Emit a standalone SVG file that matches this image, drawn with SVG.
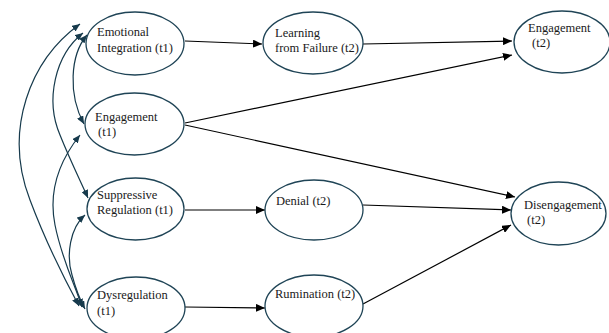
<svg xmlns="http://www.w3.org/2000/svg" width="609" height="333" viewBox="0 0 609 333">
<style>
.node ellipse{fill:#ffffff;stroke:#1f4456;stroke-width:1.3}
.node text{font-family:'Liberation Serif','Times New Roman',serif;font-size:12.5px;fill:#1a1a1a}
.path{fill:none;stroke:#000000;stroke-width:1.2}
.cor{fill:none;stroke:#163a4c;stroke-width:1.2}
</style>
<defs>
<marker id="ah" markerUnits="userSpaceOnUse" markerWidth="10" markerHeight="8" refX="9" refY="4" orient="auto">
<path d="M0,0 L9,4 L0,8 z" fill="#000000"/>
</marker>
<marker id="ch" markerUnits="userSpaceOnUse" markerWidth="9" markerHeight="7" refX="8" refY="3.5" orient="auto-start-reverse">
<path d="M0,0 L8,3.5 L0,7 z" fill="#163a4c"/>
</marker>
</defs>
<rect width="609" height="333" fill="#ffffff"/>
<g id="connectors">
<line class="path" x1="185" y1="41" x2="262" y2="44" marker-end="url(#ah)"/>
<line class="path" x1="363" y1="44" x2="512" y2="41" marker-end="url(#ah)"/>
<line class="path" x1="185" y1="123" x2="512" y2="55" marker-end="url(#ah)"/>
<line class="path" x1="185" y1="125" x2="515" y2="197" marker-end="url(#ah)"/>
<line class="path" x1="363" y1="205" x2="511" y2="210" marker-end="url(#ah)"/>
<line class="path" x1="363" y1="304" x2="511" y2="225" marker-end="url(#ah)"/>
<line class="path" x1="185" y1="210" x2="265" y2="210" marker-end="url(#ah)"/>
<line class="path" x1="185" y1="307" x2="265" y2="308" marker-end="url(#ah)"/>
<path class="cor" d="M80,24 C30,60 3,130 30,200 C45,240 65,280 79,306" marker-start="url(#ch)" marker-end="url(#ch)"/>
<path class="cor" d="M83,33 C55,55 45,100 60,135 C70,160 80,180 88,198" marker-start="url(#ch)" marker-end="url(#ch)"/>
<path class="cor" d="M87,35 C70,55 68,95 84,124" marker-start="url(#ch)" marker-end="url(#ch)"/>
<path class="cor" d="M80,135 C60,160 48,190 55,225 C62,260 75,285 82,307" marker-start="url(#ch)" marker-end="url(#ch)"/>
<path class="cor" d="M85,215 C70,228 66,255 72,275 C76,290 80,300 85,309" marker-start="url(#ch)" marker-end="url(#ch)"/>
</g>
<g id="emotional-integration" class="node">
<ellipse cx="135" cy="43.5" rx="49" ry="31.5"/>
<text x="97" y="36">Emotional</text>
<text x="97" y="52">Integration (t1)</text>
</g>
<g id="engagement-t1" class="node">
<ellipse cx="134.5" cy="124" rx="49.5" ry="31"/>
<text x="95" y="121">Engagement</text>
<text x="98" y="136">(t1)</text>
</g>
<g id="suppressive-regulation" class="node">
<ellipse cx="135.5" cy="209" rx="48.5" ry="31"/>
<text x="97" y="199">Suppressive</text>
<text x="97" y="214">Regulation (t1)</text>
</g>
<g id="dysregulation" class="node">
<ellipse cx="136" cy="308" rx="49" ry="31"/>
<text x="97" y="299">Dysregulation</text>
<text x="97" y="315">(t1)</text>
</g>
<g id="learning-from-failure" class="node">
<ellipse cx="313" cy="43" rx="50" ry="31"/>
<text x="275" y="37">Learning</text>
<text x="275" y="52">from Failure (t2)</text>
</g>
<g id="denial" class="node">
<ellipse cx="314" cy="210" rx="49" ry="30"/>
<text x="276" y="205">Denial (t2)</text>
</g>
<g id="rumination" class="node">
<ellipse cx="314" cy="306" rx="49" ry="31"/>
<text x="275" y="298">Rumination (t2)</text>
</g>
<g id="engagement-t2" class="node">
<ellipse cx="562" cy="42" rx="48" ry="31"/>
<text x="528" y="32">Engagement</text>
<text x="532" y="47">(t2)</text>
</g>
<g id="disengagement" class="node">
<ellipse cx="558.5" cy="213.5" rx="47.5" ry="31.5"/>
<text x="524" y="209">Disengagement</text>
<text x="527" y="224">(t2)</text>
</g>
</svg>
